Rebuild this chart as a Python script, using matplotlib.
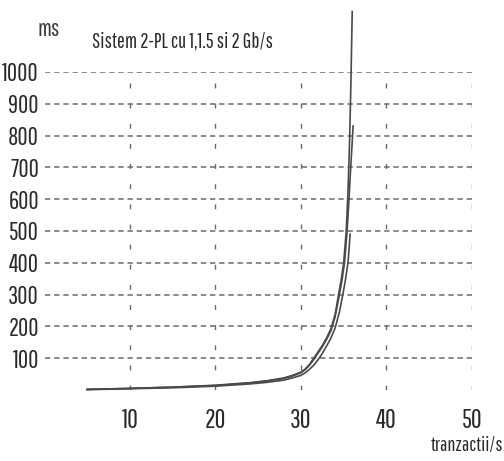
import matplotlib.pyplot as plt
from matplotlib import font_manager

installed = set(f.name for f in font_manager.fontManager.ttflist)
for fam in ['Pathway Gothic One', 'Antonio', 'Oswald', 'Roboto Condensed', 'Yanone Kaffeesatz']:
    if fam in installed:
        break
plt.rcParams['font.family'] = [fam, 'DejaVu Sans']

# curves (tranzactii/s -> ms)
x_a = [5, 10, 15, 20, 24, 26, 28, 29, 30, 30.5, 31, 31.5, 32, 32.5, 33, 33.5, 34, 34.4, 34.7,
       35, 35.3, 35.5, 35.7, 35.85, 36]
y_a = [2, 5, 9, 15, 23, 29, 38, 46, 56, 66, 80, 100, 120, 140, 164, 192, 238, 300, 345,
       400, 500, 620, 790, 970, 1190]
x_b = [5, 10, 15, 20, 24, 26, 28, 29, 30, 30.5, 31, 31.5, 32, 32.5, 33, 33.5, 34, 34.5, 34.8,
       35.1, 35.4, 35.6, 35.8, 36.0, 36.1]
y_b = [2, 5, 9, 14, 22, 28, 36, 44, 54, 64, 78, 96, 116, 136, 159, 186, 230, 300, 345,
       400, 500, 590, 690, 780, 830]
x_c = [5, 10, 15, 20, 24, 26, 28, 29, 30, 30.5, 31, 31.5, 32, 32.5, 33, 33.5, 34, 34.5, 34.9,
       35.2, 35.5, 35.65, 35.75]
y_c = [1, 4, 7, 12, 19, 24, 31, 38, 46, 54, 65, 78, 95, 115, 138, 163, 195, 245, 300,
       345, 400, 450, 490]

x_ticks = [10, 20, 30, 40, 50]
y_ticks = [100, 200, 300, 400, 500, 600, 700, 800, 900, 1000]

fig = plt.figure(figsize=(5.04, 4.61), dpi=100)
ax = fig.add_axes([0.0883, 0.154, 0.848, 0.69])
ax.set_xlim(0, 50)
ax.set_ylim(0, 1000)

grid_col = '#6a6a6a'
for yv in y_ticks:
    ax.plot([0, 50], [yv, yv], color=grid_col, lw=1.1, dashes=(3.5, 2.5), zorder=1)
for xv in x_ticks:
    ax.plot([xv, xv], [0, 1000], color=grid_col, lw=1.0, dashes=(3.5, 11), zorder=1)

line_col = '#4a4a4a'
for xs, ys in [(x_a, y_a), (x_b, y_b), (x_c, y_c)]:
    ax.plot(xs, ys, color=line_col, lw=1.2, clip_on=False, zorder=3)

for s in ['top', 'right', 'left', 'bottom']:
    ax.spines[s].set_visible(False)
ax.annotate('', xy=(0, 1002), xytext=(0, 0),
            arrowprops=dict(arrowstyle='-|>', color='#333333', lw=1.4, mutation_scale=8))
ax.annotate('', xy=(50.3, 0), xytext=(0, 0),
            arrowprops=dict(arrowstyle='-|>', color='#333333', lw=2.2, mutation_scale=10))

ax.set_xticks(x_ticks)
ax.set_xticklabels([str(v) for v in x_ticks])
ax.set_yticks(y_ticks)
ax.set_yticklabels([str(v) for v in y_ticks])
ax.tick_params(axis='x', length=0, pad=13, labelsize=19, labelcolor='#2a2a2a')
ax.tick_params(axis='y', length=0, pad=4, labelsize=18, labelcolor='#2a2a2a')

fig.text(0.074, 0.935, 'ms', fontsize=17, color='#3a3a3a', ha='left', va='center')
fig.text(0.183, 0.91, 'Sistem 2-PL cu 1,1.5 si 2 Gb/s', fontsize=15, color='#2a2a2a',
         ha='left', va='center')
fig.text(0.998, 0.033, 'tranzactii/s', fontsize=14.5, color='#2a2a2a', ha='right', va='center')

fig.savefig('out.png', dpi=100)
